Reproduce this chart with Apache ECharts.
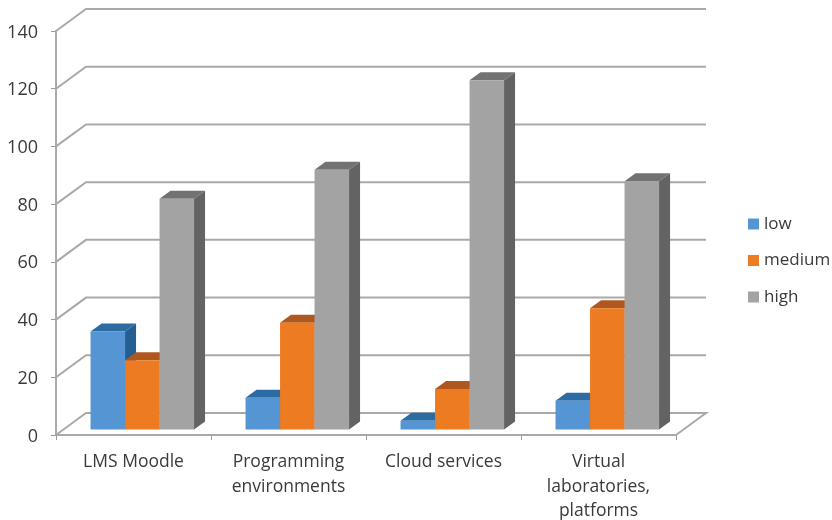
<!DOCTYPE html>
<html>
<head>
<meta charset="utf-8">
<style>html,body{margin:0;padding:0;background:#fff}#c{width:832px;height:520px}</style>
<script src="https://cdn.jsdelivr.net/npm/echarts@6/dist/echarts.min.js"></script>
</head>
<body>
<div id="c"></div>
<script>
var categories = ['LMS Moodle', 'Programming\nenvironments', 'Cloud services', 'Virtual\nlaboratories,\nplatforms'];
var yTicks = [0, 20, 40, 60, 80, 100, 120, 140];
var low = [34, 11, 3, 10];
var medium = [24, 37, 14, 42];
var high = [80, 90, 121, 86];

var wallDx = 30, wallDy = -22;   // depth of the 3D box
var barDx = 8.8, barDy = -5.5;   // front face of the bars inside the box
var depthDx = 11, depthDy = -8;  // depth of a bar
var barShare = 0.2226;
var gridColor = '#A9A9A9', textColor = '#3A3A3A', font = '"Open Sans"';

function wallItem(params, api) {
  var cs = params.coordSys;
  var p = api.coord([0, api.value(1)]);
  var left = cs.x, right = cs.x + cs.width;
  var pts = [[left, p[1]], [left + wallDx, p[1] + wallDy], [right + wallDx, p[1] + wallDy]];
  if (api.value(1) === 0) pts.push([right, p[1]]);
  return { type: 'polyline', silent: true, shape: { points: pts },
    style: { fill: null, stroke: gridColor, lineWidth: 2 } };
}

function barRender(idx, front, top, side) {
  return function (params, api) {
    var c = api.value(0), v = api.value(1);
    var band = api.size([1, 0])[0];
    var w = band * barShare;
    var base = api.coord([c, 0]);
    var head = api.coord([c, v]);
    var x0 = base[0] + barDx + (idx - 1.5) * w;
    var x1 = x0 + w;
    var y0 = base[1] + barDy;
    var y1 = head[1] + barDy;
    return { type: 'group', children: [
      { type: 'polygon', shape: { points: [[x1, y1], [x1 + depthDx, y1 + depthDy], [x1 + depthDx, y0 + depthDy], [x1, y0]] }, style: { fill: side } },
      { type: 'polygon', shape: { points: [[x0, y1], [x0 + depthDx, y1 + depthDy], [x1 + depthDx, y1 + depthDy], [x1, y1]] }, style: { fill: top } },
      { type: 'rect', shape: { x: x0, y: y1, width: w, height: y0 - y1 }, style: { fill: front } }
    ] };
  };
}

function barSeries(name, values, idx, front, top, side) {
  return {
    type: 'custom', name: name, coordinateSystem: 'cartesian2d', clip: false, z: 3 + idx,
    itemStyle: { color: front },
    renderItem: barRender(idx, front, top, side),
    encode: { x: 0, y: 1 },
    data: values.map(function (v, i) { return [i, v]; })
  };
}

var chart = echarts.init(document.getElementById('c'), null, { renderer: 'canvas' });
chart.setOption({
  animation: false,
  backgroundColor: '#fff',
  grid: { left: 56, right: 156, top: 31, bottom: 85, containLabel: false, outerBoundsMode: 'none' },
  xAxis: {
    type: 'category', data: categories,
    axisLine: { show: true, lineStyle: { color: gridColor, width: 2 } },
    axisTick: { show: true, length: 5, lineStyle: { color: '#9A9A9A', width: 1 } },
    axisLabel: { color: textColor, fontFamily: font, fontSize: 17.5, lineHeight: 24.5, margin: 15, interval: 0 },
    splitLine: { show: false }
  },
  yAxis: {
    type: 'value', min: 0, max: 140, interval: 20,
    axisLine: { show: true, lineStyle: { color: gridColor, width: 2 } },
    axisTick: { show: true, length: 5, lineStyle: { color: '#9A9A9A', width: 1 } },
    axisLabel: { margin: 18,
      rich: { t: { color: textColor, fontFamily: font, fontSize: 18, padding: [3, 0, 0, 0] } },
      formatter: function (v) { return yTicks.indexOf(v) >= 0 ? '{t|' + v + '}' : ''; } },
    splitLine: { show: false }
  },
  legend: {
    orient: 'vertical', left: 748, top: 213, padding: 0, itemWidth: 11, itemHeight: 11, itemGap: 14.5,
    icon: 'rect', data: ['low', 'medium', 'high'], selectedMode: false,
    textStyle: { color: textColor, fontFamily: font, fontSize: 17, lineHeight: 22 }
  },
  series: [
    { type: 'custom', name: 'walls', coordinateSystem: 'cartesian2d', clip: false, z: 1, silent: true,
      renderItem: wallItem, encode: { y: 1 },
      data: yTicks.map(function (v) { return [0, v]; }) },
    barSeries('low', low, 0, '#5595D3', '#2C6CA3', '#255E90'),
    barSeries('medium', medium, 1, '#ED7B22', '#B0571F', '#A9521C'),
    barSeries('high', high, 2, '#A3A3A3', '#727272', '#636363')
  ]
});
</script>
</body>
</html>
